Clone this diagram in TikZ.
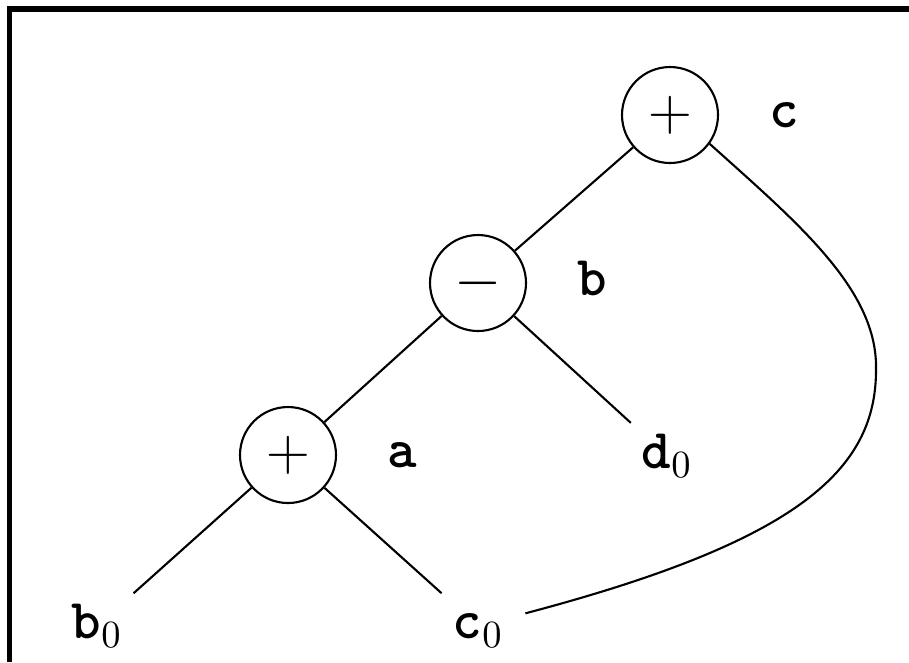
\documentclass[tikz,border=0pt]{standalone}
\usetikzlibrary{positioning}
\begin{document}
\begin{tikzpicture}[x=0.1mm,y=-0.1mm,line width=0.6pt,
    op/.style={circle,draw,minimum size=0.96cm,inner sep=0pt,font=\fontsize{16}{19}\selectfont},
    leaf/.style={circle,minimum size=0.96cm,inner sep=0pt,text height=10pt,text depth=3pt,font=\fontsize{16}{19}\selectfont\ttfamily\bfseries},
    tag/.style={inner sep=0pt,text height=1ex,text depth=0pt,yshift=-0.05cm,font=\fontsize{16}{19}\selectfont\ttfamily\bfseries}]
   \useasboundingbox (0,0) rectangle (909,662);
   \draw[line width=1.6pt] (9.5,662) -- (9.5,9) -- (909,9);
   % interior nodes with their names
   \node[op] (plusc) at (670,115) {$+$};
   \node[op] (minusb) at (478,283) {$-$};
   \node[op] (plusa) at (288,455) {$+$};
   \node[tag,right=0.49cm of plusc] (lc) {c};
   \node[tag,right=0.49cm of minusb] (lb) {b};
   \node[tag,right=0.49cm of plusa] (la) {a};
   % leaves
   \node[leaf] (dz) at (667,456) {d$_0$};
   \node[leaf] (bz) at (97,626) {b$_0$};
   \node[leaf] (cz) at (478,626) {c$_0$};
   \coordinate (bend) at (876,370);
   \draw (plusc) -- (minusb);
   \draw (minusb) -- (plusa);
   \draw (minusb) -- (dz);
   \draw (plusa) -- (bz);
   \draw (plusa) -- (cz);
   % shared operand c0 goes back up to the top node
   \draw (plusc.-36) .. controls +(89,80) and +(2,-80) .. (bend)
        .. controls +(0,100) and +(273,-72) .. (cz.15);
\end{tikzpicture}
\end{document}
